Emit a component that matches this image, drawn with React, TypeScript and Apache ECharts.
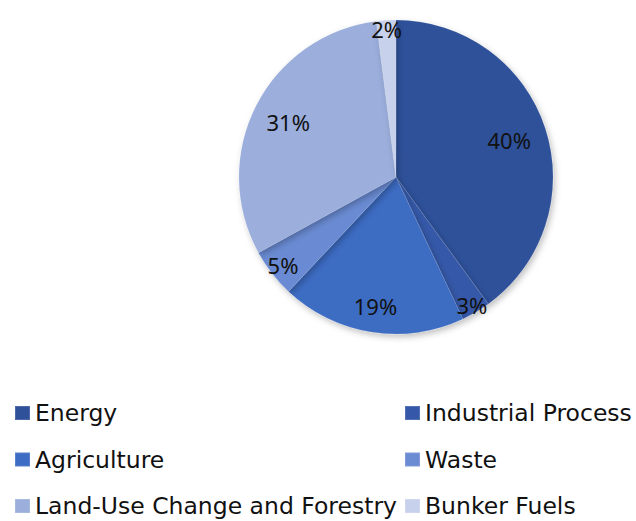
import React, { useEffect, useRef } from "react";
import * as echarts from "echarts";

const categories = [
  "Energy",
  "Industrial Process",
  "Agriculture",
  "Waste",
  "Land-Use Change and Forestry",
  "Bunker Fuels",
];
const shares = [40, 3, 19, 5, 31, 2];
const colors = ["#2F519A", "#3559A8", "#3C6CC3", "#6B8BD3", "#9BAEDC", "#C7D1EC"];
const legendLeft = ["Energy", "Agriculture", "Land-Use Change and Forestry"];
const legendRight = ["Industrial Process", "Waste", "Bunker Fuels"];

// distance (px) of each percentage label from the pie centre
const labelRing: Record<string, number> = {
  Energy: 116,
  "Industrial Process": 146,
  Agriculture: 128,
  Waste: 140,
  "Land-Use Change and Forestry": 118,
  "Bunker Fuels": 145,
};

const FONT = "DejaVu Sans";
const LABEL_FONT = "Noto Sans";
const CENTER = [396, 177];
const RADIUS = 157;

export default function App() {
  const ref = useRef<HTMLDivElement>(null);
  useEffect(() => {
    if (!ref.current) return;
    const chart = echarts.init(ref.current, undefined, { renderer: "svg" });
    const data = categories.map((name, i) => ({
      name,
      value: shares[i],
      itemStyle: { color: colors[i] },
    }));
    // invisible copies of the pie, one per label, whose "inside" label lands at labelRing
    const labelSeries = categories.map((target) => ({
      type: "pie",
      center: CENTER,
      radius: [0, labelRing[target] * 2],
      startAngle: 90,
      clockwise: true,
      silent: true,
      legendHoverLink: false,
      z: 3,
      data: categories.map((name, i) => ({
        name,
        value: shares[i],
        itemStyle: { color: "rgba(0,0,0,0)", borderWidth: 0 },
        label: { show: name === target },
      })),
      label: {
        position: "inside",
        formatter: (p: any) => p.value + "%",
        color: "#111",
        fontFamily: LABEL_FONT,
        fontSize: 22,
      },
      labelLine: { show: false },
      emphasis: { disabled: true },
    }));
    const legendCommon = {
      orient: "vertical",
      top: 401,
      padding: 0,
      itemWidth: 15,
      itemHeight: 14,
      itemGap: 22.5,
      icon: "rect",
      selectedMode: false,
      textStyle: { fontFamily: FONT, fontSize: 23.5, lineHeight: 24, color: "#111" },
    };
    chart.setOption({
      animation: false,
      backgroundColor: "#ffffff",
      legend: [
        { ...legendCommon, left: 14, data: legendLeft },
        { ...legendCommon, left: 404, data: legendRight },
      ],
      series: [
        {
          type: "pie",
          center: CENTER,
          radius: [0, RADIUS],
          startAngle: 90,
          clockwise: true,
          data,
          label: { show: false },
          labelLine: { show: false },
          itemStyle: {
            borderColor: "rgba(255,255,255,0.15)",
            borderWidth: 0.5,
            shadowColor: "rgba(0,0,0,0.25)",
            shadowBlur: 6,
            shadowOffsetX: 2,
            shadowOffsetY: 3,
          },
          emphasis: { disabled: true },
        },
        ...labelSeries,
      ],
    });
    return () => chart.dispose();
  }, []);
  return (
    <div
      ref={ref}
      style={{ position: "fixed", left: 0, top: 0, width: 636, height: 521 }}
    />
  );
}
